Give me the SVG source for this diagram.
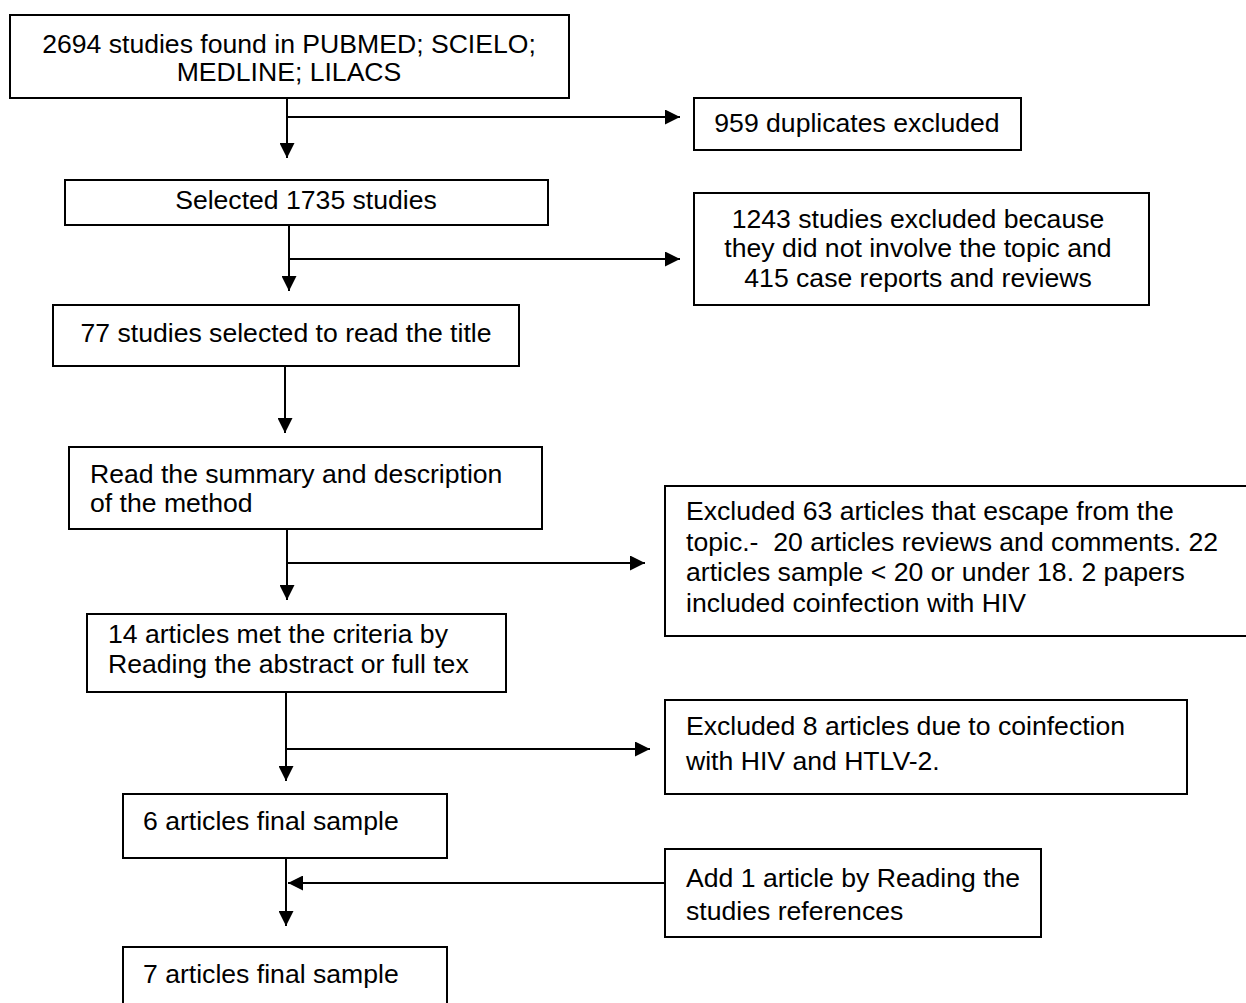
<svg xmlns="http://www.w3.org/2000/svg" width="1246" height="1003" viewBox="0 0 1246 1003">
<style>
.box{fill:#fff;stroke:#000;stroke-width:2}
.t{font-family:"Liberation Sans",Arial,sans-serif;font-size:26.6px;fill:#000}
.c{text-anchor:middle}
.ln{stroke:#000;stroke-width:2;fill:none}
</style>
<defs>
<marker id="ah" markerUnits="userSpaceOnUse" markerWidth="15" markerHeight="15" refX="15" refY="7.5" orient="auto">
<path d="M0,0 L15,7.5 L0,15 z" fill="#000"/>
</marker>
</defs>
<rect width="1246" height="1003" fill="#fff"/>
<g id="connectors">
<line class="ln" x1="287" y1="98" x2="287" y2="158" marker-end="url(#ah)"/>
<line class="ln" x1="287" y1="117" x2="680" y2="117" marker-end="url(#ah)"/>
<line class="ln" x1="289" y1="225" x2="289" y2="291" marker-end="url(#ah)"/>
<line class="ln" x1="289" y1="259" x2="680" y2="259" marker-end="url(#ah)"/>
<line class="ln" x1="285" y1="366" x2="285" y2="433" marker-end="url(#ah)"/>
<line class="ln" x1="287" y1="529" x2="287" y2="600" marker-end="url(#ah)"/>
<line class="ln" x1="287" y1="563" x2="645" y2="563" marker-end="url(#ah)"/>
<line class="ln" x1="286" y1="692" x2="286" y2="781" marker-end="url(#ah)"/>
<line class="ln" x1="286" y1="749" x2="650" y2="749" marker-end="url(#ah)"/>
<line class="ln" x1="286" y1="858" x2="286" y2="926" marker-end="url(#ah)"/>
<line class="ln" x1="665" y1="883" x2="288" y2="883" marker-end="url(#ah)"/>
</g>
<g id="n1">
<rect class="box" x="10" y="15" width="559" height="83"/>
<text class="t c" x="289" y="53">2694 studies found in PUBMED; SCIELO;</text>
<text class="t c" x="289" y="81">MEDLINE; LILACS</text>
</g>
<g id="n2">
<rect class="box" x="694" y="98" width="327" height="52"/>
<text class="t c" x="857" y="132">959 duplicates excluded</text>
</g>
<g id="n3">
<rect class="box" x="65" y="180" width="483" height="45"/>
<text class="t c" x="306" y="209">Selected 1735 studies</text>
</g>
<g id="n4">
<rect class="box" x="694" y="193" width="455" height="112"/>
<text class="t c" x="918" y="228">1243 studies excluded because</text>
<text class="t c" x="918" y="257">they did not involve the topic and</text>
<text class="t c" x="918" y="287">415 case reports and reviews</text>
</g>
<g id="n5">
<rect class="box" x="53" y="305" width="466" height="61"/>
<text class="t c" x="286" y="342">77 studies selected to read the title</text>
</g>
<g id="n6">
<rect class="box" x="69" y="447" width="473" height="82"/>
<text class="t" x="90" y="483">Read the summary and description</text>
<text class="t" x="90" y="512">of the method</text>
</g>
<g id="n7">
<rect class="box" x="665" y="486" width="590" height="150"/>
<text class="t" x="686" y="520">Excluded 63 articles that escape from the</text>
<text class="t" x="686" y="550.5" xml:space="preserve">topic.-  20 articles reviews and comments. 22</text>
<text class="t" x="686" y="581">articles sample &lt; 20 or under 18. 2 papers</text>
<text class="t" x="686" y="611.5">included coinfection with HIV</text>
</g>
<g id="n8">
<rect class="box" x="87" y="614" width="419" height="78"/>
<text class="t" x="108" y="643">14 articles met the criteria by</text>
<text class="t" x="108" y="673">Reading the abstract or full tex</text>
</g>
<g id="n9">
<rect class="box" x="665" y="700" width="522" height="94"/>
<text class="t" x="686" y="735">Excluded 8 articles due to coinfection</text>
<text class="t" x="686" y="770">with HIV and HTLV-2.</text>
</g>
<g id="n10">
<rect class="box" x="123" y="794" width="324" height="64"/>
<text class="t" x="143" y="830">6 articles final sample</text>
</g>
<g id="n11">
<rect class="box" x="665" y="849" width="376" height="88"/>
<text class="t" x="686" y="887">Add 1 article by Reading the</text>
<text class="t" x="686" y="920">studies references</text>
</g>
<g id="n12">
<rect class="box" x="123" y="947" width="324" height="70"/>
<text class="t" x="143" y="983">7 articles final sample</text>
</g>
</svg>
